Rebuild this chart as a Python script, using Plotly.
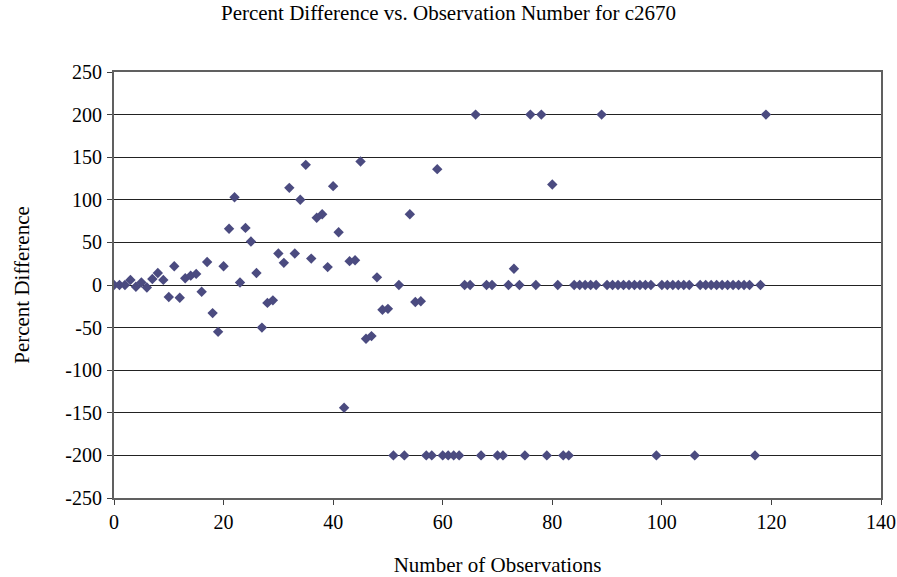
import plotly.graph_objects as go

obs = list(range(120))
pct_diff = [
    0, 0, 0, 6, -2, 3, -3, 7, 14, 6,
    -14, 22, -15, 8, 11, 13, -8, 27, -33, -55,
    22, 66, 103, 3, 67, 51, 14, -50, -21, -18,
    37, 26, 114, 37, 100, 141, 31, 79, 83, 21,
    116, 62, -144, 28, 29, 145, -63, -60, 9, -29,
    -28, -200, 0, -200, 83, -20, -19, -200, -200, 136,
    -200, -200, -200, -200, 0, 0, 200, -200, 0, 0,
    -200, -200, 0, 19, 0, -200, 200, 0, 200, -200,
    118, 0, -200, -200, 0, 0, 0, 0, 0, 200,
    0, 0, 0, 0, 0, 0, 0, 0, 0, -200,
    0, 0, 0, 0, 0, 0, -200, 0, 0, 0,
    0, 0, 0, 0, 0, 0, 0, -200, 0, 200,
]

x_ticks = [0, 20, 40, 60, 80, 100, 120, 140]
y_ticks = [250, 200, 150, 100, 50, 0, -50, -100, -150, -200, -250]

title_text = "Percent Difference vs. Observation Number for c2670"
x_title = "Number of Observations"
y_title = "Percent Difference"

FONT = "Liberation Serif"

fig = go.Figure()
fig.add_trace(go.Scatter(
    x=obs, y=pct_diff, mode="markers",
    marker=dict(symbol="diamond", size=8, color="#4b4b80",
                line=dict(width=0)),
    showlegend=False,
))

fig.update_layout(
    width=897, height=577,
    margin=dict(l=114, r=16, t=72, b=79, autoexpand=False),
    paper_bgcolor="white", plot_bgcolor="white",
    font=dict(family=FONT, size=20, color="black"),
    title=dict(text=title_text, x=0.5, xanchor="center", y=0.99, yanchor="top",
               font=dict(family=FONT, size=21, color="black")),
)
fig.update_xaxes(
    range=[0, 140], tickvals=x_ticks, ticktext=[str(v) for v in x_ticks],
    showgrid=False, zeroline=False, automargin=False,
    showline=True, linecolor="#606060", linewidth=2, mirror=True,
    ticks="outside", ticklen=5, tickcolor="#404040", tickwidth=1,
    tickfont=dict(family=FONT, size=20),
    title=dict(text=x_title, font=dict(family=FONT, size=21), standoff=25),
)
fig.update_yaxes(
    range=[-250, 250], tickvals=y_ticks, ticktext=[str(v) for v in y_ticks],
    showgrid=True, gridcolor="#222222", gridwidth=1, zeroline=False, automargin=False,
    showline=True, linecolor="#606060", linewidth=2, mirror=True,
    ticks="outside", ticklen=5, tickcolor="#404040", tickwidth=1,
    ticklabelstandoff=1,
    tickfont=dict(family=FONT, size=20),
    title=dict(text=y_title, font=dict(family=FONT, size=21), standoff=30),
)

fig.write_html("out.html")
